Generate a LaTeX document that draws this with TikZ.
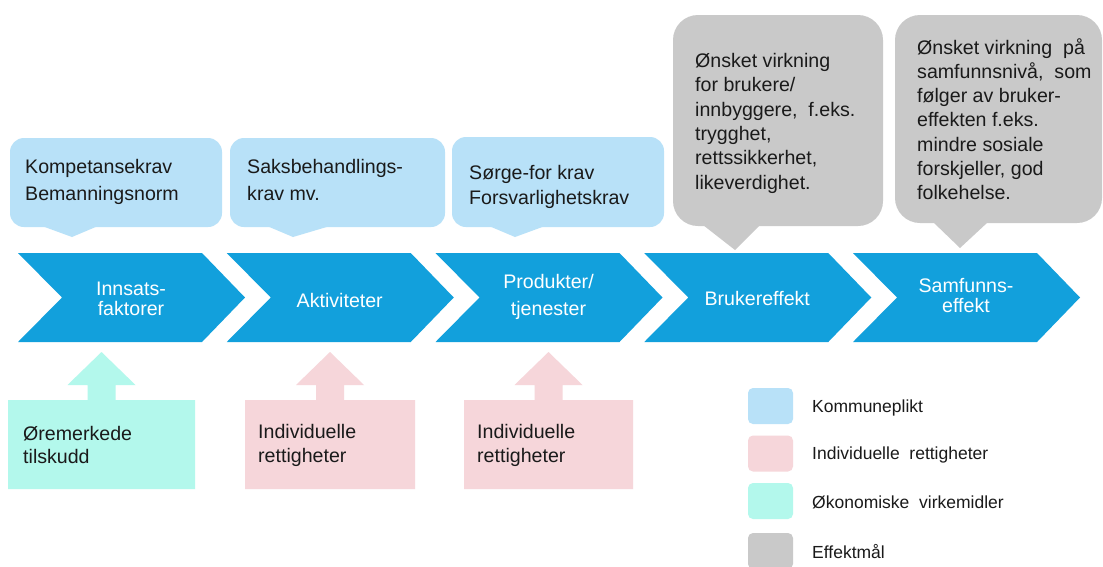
\documentclass[tikz,border=0pt]{standalone}
\usepackage{fontspec}
\setmainfont{Liberation Sans}
\definecolor{chev}{RGB}{18,160,220}
\definecolor{lblue}{RGB}{184,225,248}
\definecolor{effgray}{RGB}{201,201,201}
\definecolor{rpink}{RGB}{246,214,218}
\definecolor{eteal}{RGB}{179,248,236}
\definecolor{ink}{RGB}{26,26,26}
\newcommand\fl{\rule{0pt}{18pt}}
\begin{document}
\begin{tikzpicture}[x=1pt,y=-1pt,
  txt/.style={inner sep=0pt, align=left, anchor=north west, text=ink, font=\fontsize{19.6}{26}\selectfont},
  clab/.style={inner sep=0pt, align=center, text=white, font=\fontsize{19.6}{20}\selectfont},
  legsq/.style={minimum width=45pt, minimum height=36pt, inner sep=0pt, rounded corners=5pt},
  legtxt/.style={inner sep=0pt, anchor=base west, text=ink, font=\fontsize{17.5}{20}\selectfont}]
\useasboundingbox (0,0) rectangle (1103,566);
\fill[white] (0,0) rectangle (1103,566);

% chevrons
\foreach \i in {0,...,4} {
  \pgfmathsetmacro\xa{18+208.75*\i}
  \fill[chev] (\xa,253) -- ++(184,0) -- ++(43,44.5) -- ++(-43,44.5) -- ++(-184,0) -- ++(44,-44.5) -- cycle;
}
\node[clab] (c1) at (131,299) {Innsats-\\faktorer};
\node[clab] (c2) at (339.75,300) {Aktiviteter};
\node[clab] (c3) at (548.5,297) {Produkter/\\[7pt]tjenester};
\node[clab] (c4) at (757.25,298) {Brukereffekt};
\node[clab] (c5) at (966,295) {Samfunns-\\effekt};

% blue callouts
\fill[lblue, rounded corners=14pt] (10,138) rectangle (222,227);
\fill[lblue] (42,226) -- (72,237) -- (98,226) -- cycle;
\fill[lblue, rounded corners=14pt] (230,138) rectangle (445,227);
\fill[lblue] (267,226) -- (293,237) -- (330,226) -- cycle;
\fill[lblue, rounded corners=14pt] (452,137) rectangle (664,227);
\fill[lblue] (489,226) -- (515,237) -- (545,226) -- cycle;
\node[txt, font=\fontsize{19.6}{27}\selectfont] (b1) at (25,155) {\fl Kompetansekrav\\Bemanningsnorm};
\node[txt, font=\fontsize{19.6}{27}\selectfont] (b2) at (247,155) {\fl Saksbehandlings-\\krav mv.};
\node[txt, font=\fontsize{19.6}{25}\selectfont] (b3) at (469,161) {\fl Sørge-for krav\\Forsvarlighetskrav};

% gray callouts
\fill[effgray, rounded corners=25pt] (673,15) rectangle (883,226);
\fill[effgray] (703,225) -- (735,250) -- (760,225) -- cycle;
\fill[effgray, rounded corners=25pt] (895,15) rectangle (1102,223);
\fill[effgray] (933,222) -- (960,248) -- (988,222) -- cycle;
\node[txt, font=\fontsize{19.6}{24.4}\selectfont] (g1) at (695,49)
  {\fl Ønsket virkning\\for brukere/\\innbyggere,~ f.eks.\\trygghet,\\rettssikkerhet,\\likeverdighet.};
\node[txt, font=\fontsize{19.6}{24.2}\selectfont] (g2) at (917,36)
  {\fl Ønsket virkning~ på\\samfunnsnivå,~ som\\følger av bruker-\\effekten f.eks.\\mindre sosiale\\forskjeller, god\\folkehelse.};

% bottom boxes with up arrows
\fill[eteal] (8,489) -- (8,400) -- (87.5,400) -- (87.5,385) -- (67.5,385) -- (101.5,352) -- (135.5,385) -- (115.5,385) -- (115.5,400) -- (195,400) -- (195,489) -- cycle;
\fill[rpink] (245,489) -- (245,400) -- (316,400) -- (316,385) -- (296,385) -- (330,352) -- (364,385) -- (344,385) -- (344,400) -- (415,400) -- (415,489) -- cycle;
\fill[rpink] (464,489) -- (464,400) -- (534.5,400) -- (534.5,385) -- (514.5,385) -- (548.5,352) -- (582.5,385) -- (562.5,385) -- (562.5,400) -- (633,400) -- (633,489) -- cycle;
\node[txt, font=\fontsize{19.6}{23.5}\selectfont] (e1) at (23,422) {\fl Øremerkede\\tilskudd};
\node[txt, font=\fontsize{19.6}{24}\selectfont] (p1) at (258,420) {\fl Individuelle\\rettigheter};
\node[txt, font=\fontsize{19.6}{24}\selectfont] (p2) at (477,420) {\fl Individuelle\\rettigheter};

% legend
\node[legsq, fill=lblue] (s1) at (770.5,406) {};
\node[legsq, fill=rpink] (s2) at (770.5,453.5) {};
\node[legsq, fill=eteal] (s3) at (770.5,501) {};
\node[legsq, fill=effgray] (s4) at (770.5,551) {};
\node[legtxt] (l1) at (812,412.5) {Kommuneplikt};
\node[legtxt] (l2) at (812,459.5) {Individuelle~ rettigheter};
\node[legtxt] (l3) at (812,508.5) {Økonomiske~ virkemidler};
\node[legtxt] (l4) at (812,558.5) {Effektmål};
\end{tikzpicture}
\end{document}
